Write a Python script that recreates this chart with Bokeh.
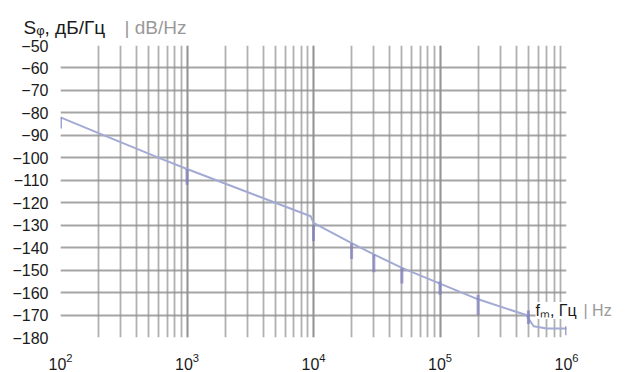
from bokeh.plotting import figure
from bokeh.models import Range1d, FixedTicker, CustomJSTickFormatter, Label
from bokeh.embed import file_html
from bokeh.resources import INLINE

# Phase-noise curve (frequency offset in Hz, level in dB/Hz)
freq = [100, 200, 600, 1000, 9500, 10000, 20000, 30000, 50000, 100000, 200000, 480000, 550000, 700000, 1000000]
level = [-82, -89, -100, -105, -126, -129, -138, -143, -149, -156, -163, -170, -175, -176, -176]

# Spurs (vertical short segments)
spur_f = [100, 1000, 10000, 20000, 30000, 50000, 100000, 200000, 500000, 1000000]
spur_top = [-82, -105, -130, -138, -143, -149, -155, -161, -168, -175]
spur_bottom = [-87, -112, -137, -145, -151, -156, -161, -170, -174, -179]

y_ticks = list(range(-180, -49, 10))

FONT = "Liberation Sans"

p = figure(width=635, height=372, x_axis_type="log",
           x_range=Range1d(100, 1e6), y_range=Range1d(-180, -50),
           min_border_left=60, min_border_right=69, min_border_top=45, min_border_bottom=30,
           output_backend="svg", toolbar_location=None)
p.outline_line_color = None
p.background_fill_color = "white"

# axes
for ax in (p.xaxis[0], p.yaxis[0]):
    ax.axis_line_color = None
    ax.major_tick_line_color = None
    ax.minor_tick_line_color = None
    ax.major_label_text_font = FONT
    ax.major_label_text_font_size = "16px"
    ax.major_label_text_color = "#1a1a1a"

p.yaxis.ticker = FixedTicker(ticks=y_ticks)
p.yaxis.formatter = CustomJSTickFormatter(code="return (tick < 0 ? '\u2212' : '') + Math.abs(tick);")
p.yaxis.major_label_standoff = 6
p.xaxis.major_label_standoff = 9

# grids
GRID = "#8e8e8e"
p.xgrid.grid_line_color = GRID
p.xgrid.grid_line_width = 1.8
p.xgrid.grid_line_alpha = 0.8
p.xgrid.minor_grid_line_color = GRID
p.xgrid.minor_grid_line_width = 1.8
p.xgrid.minor_grid_line_alpha = 0.7
p.ygrid.grid_line_color = GRID
p.ygrid.grid_line_width = 1.8
p.ygrid.grid_line_alpha = 0.8

# data
p.line(freq, level, line_color="#a3aad4", line_width=2)
p.segment(x0=spur_f, y0=spur_top, x1=spur_f, y1=spur_bottom,
          line_color="#7f7fc0", line_width=3, line_alpha=0.7)

def lab(side, txt, x, y, size, color="#1a1a1a", bg=None):
    kw = dict(background_fill_color=bg) if bg else {}
    p.add_layout(Label(x=x, y=y, x_units="screen", y_units="screen", text=txt,
                       text_font=FONT, text_font_size=size, text_color=color,
                       text_baseline="alphabetic", text_align="left", **kw), side)

# y-axis title (above the frame): two stacked rows, both drawn on one baseline
lab("above", "S\u1d69, дБ/Гц", -37, 18, "19px")
lab("above", "| dB/Hz", 64, -3, "19px", "#999999")

# x-axis title (at the right end of the frame)
lab("right", "f\u2098, Гц", -31, 27, "16px", "#1a1a1a", "white")
lab("right", "| Hz", -24, 27, "16px", "#999999", "white")

open("out.html", "w").write(file_html(p, INLINE))
